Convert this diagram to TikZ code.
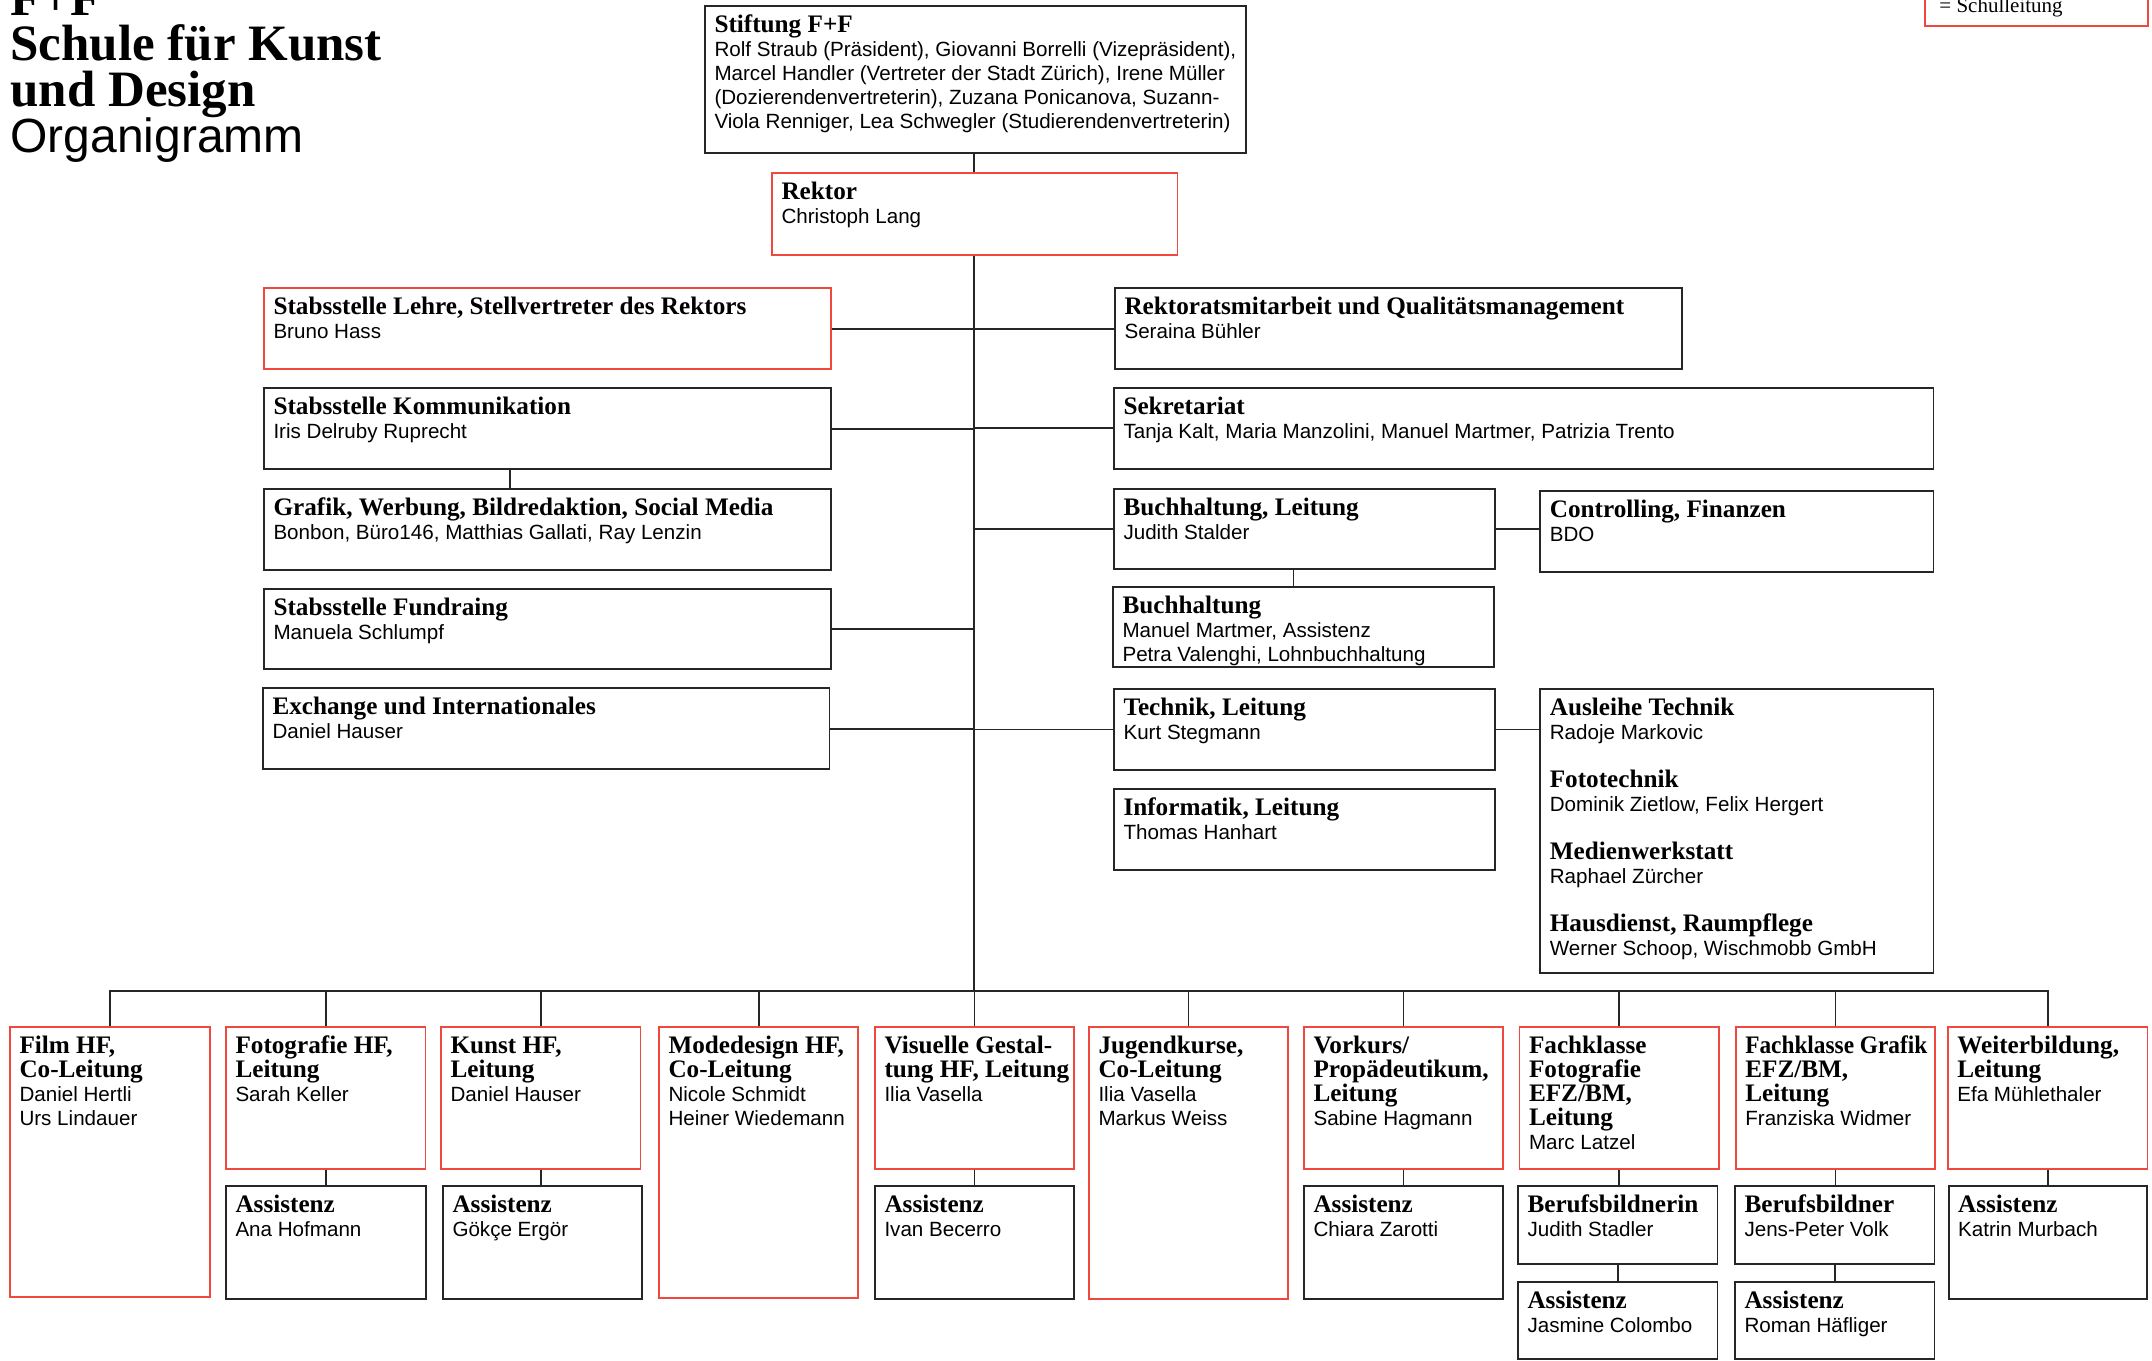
\documentclass[tikz,border=0pt]{standalone}
\usepackage{graphicx}
\usepackage{fontspec}
\setmainfont{Liberation Sans}
\newfontfamily\SerifFam{Liberation Serif}
\usetikzlibrary{fit,calc}
\definecolor{ffred}{RGB}{240,72,62}
\definecolor{ffdark}{RGB}{38,38,38}
\newcommand\HdF{\SerifFam\bfseries\fontsize{12.6}{12}\selectfont}
\newcommand\NmF{\normalfont\fontsize{10.3}{12}\selectfont}
\newcommand\obox[7]{%
  \node[#2,fit={(#3,#4)(#5,#6)}] (#1) {};
  \node[txt] (#1-t) at ($(#1.north west)+(10,27.5)$) {\parbox[t]{420pt}{\lineskiplimit=-100pt\lineskip=0pt #7}};
}
\begin{document}
\begin{tikzpicture}[x=0.5pt,y=-0.5pt,
  bxb/.style={inner sep=0pt,draw=ffdark,line width=0.9pt,fill=white},
  bxr/.style={inner sep=0pt,draw=ffred,line width=0.9pt,fill=white},
  txt/.style={anchor=base west,inner sep=0pt},
  conn/.style={draw=ffdark,line width=0.9pt},
]
\useasboundingbox[fill=white] (0,0) rectangle (2152,1360);

% title
\node[anchor=base west,inner sep=0pt] (title) at (10,15) {\parbox[t]{500pt}{\lineskiplimit=-100pt\SerifFam\bfseries\fontsize{25.5}{23}\selectfont F+F\\ Schule für Kunst\\ und Design\\ \normalfont\fontsize{24}{23}\selectfont Organigramm}};

% legend
\node[inner sep=0pt,draw=ffred,line width=0.9pt,fit={(1925,-40)(2148,25.7)}] (legend) {};
\node[txt] (legend-t) at (1939,12.7) {\SerifFam\fontsize{10.5}{12}\selectfont = Schulleitung};

% top
\obox{stift}{bxb}{705}{6}{1246}{152.7}{\HdF Stiftung F+F\\ \NmF Rolf Straub (Präsident), Giovanni Borrelli (Vizepräsident),\\ Marcel Handler (Vertreter der Stadt Zürich), Irene Müller\\ (Dozierendenvertreterin), Zuzana Ponicanova, Suzann-\\ Viola Renniger, Lea Schwegler (Studierendenvertreterin)}
\obox{rektor}{bxr}{772}{173}{1177.5}{255}{\HdF Rektor\\ \NmF Christoph Lang}

% left column
\obox{lehre}{bxr}{264}{288.3}{831}{369}{\HdF Stabsstelle Lehre, Stellvertreter des Rektors\\ \NmF Bruno Hass}
\obox{komm}{bxb}{264}{388.3}{831}{469.3}{\HdF Stabsstelle Kommunikation\\ \NmF Iris Delruby Ruprecht}
\obox{grafik}{bxb}{264}{489}{831}{570}{\HdF Grafik, Werbung, Bildredaktion, Social Media\\ \NmF Bonbon, Büro146, Matthias Gallati, Ray Lenzin}
\obox{fund}{bxb}{264}{589}{831}{669.3}{\HdF Stabsstelle Fundraing\\ \NmF Manuela Schlumpf}
\obox{exch}{bxb}{263}{688.3}{829.5}{769}{\HdF Exchange und Internationales\\ \NmF Daniel Hauser}

% right column
\obox{rekt}{bxb}{1115}{288.3}{1682.3}{369}{\HdF Rektoratsmitarbeit und Qualitätsmanagement\\ \NmF Seraina Bühler}
\obox{sekr}{bxb}{1114}{387.7}{1933.4}{469}{\HdF Sekretariat\\ \NmF Tanja Kalt, Maria Manzolini, Manuel Martmer, Patrizia Trento}
\obox{buchl}{bxb}{1114}{488.7}{1495.3}{569.3}{\HdF Buchhaltung, Leitung\\ \NmF Judith Stalder}
\obox{contr}{bxb}{1540.3}{490.7}{1933.4}{571.7}{\HdF Controlling, Finanzen\\ \NmF BDO}
\obox{buch}{bxb}{1113}{586.7}{1494.2}{667.3}{\HdF Buchhaltung\\ \NmF Manuel Martmer, Assistenz\\ Petra Valenghi, Lohnbuchhaltung}
\obox{tech}{bxb}{1114}{689}{1495.3}{770}{\HdF Technik, Leitung\\ \NmF Kurt Stegmann}
\obox{info}{bxb}{1114}{788.7}{1495.3}{870}{\HdF Informatik, Leitung\\ \NmF Thomas Hanhart}
\obox{ausl}{bxb}{1540.3}{689}{1933.4}{973.3}{\HdF Ausleihe Technik\\ \NmF Radoje Markovic\\[12pt] \HdF Fototechnik\\ \NmF Dominik Zietlow, Felix Hergert\\[12pt] \HdF Medienwerkstatt\\ \NmF Raphael Zürcher\\[12pt] \HdF Hausdienst, Raumpflege\\ \NmF Werner Schoop, Wischmobb GmbH}

% bottom row
\obox{film}{bxr}{10}{1027.3}{210}{1297}{\HdF Film HF,\\ Co-Leitung\\ \NmF Daniel Hertli\\ Urs Lindauer}
\obox{foto}{bxr}{226}{1027.3}{425.5}{1169}{\HdF Fotografie HF,\\ Leitung\\ \NmF Sarah Keller}
\obox{assfoto}{bxb}{226}{1186}{426}{1299}{\HdF Assistenz\\ \NmF Ana Hofmann}
\obox{kunst}{bxr}{441}{1027.3}{640.5}{1169}{\HdF Kunst HF,\\ Leitung\\ \NmF Daniel Hauser}
\obox{asskunst}{bxb}{443}{1186}{642}{1299}{\HdF Assistenz\\ \NmF Gökçe Ergör}
\obox{mode}{bxr}{659}{1027.3}{858.2}{1297.7}{\HdF Modedesign HF,\\ Co-Leitung\\ \NmF Nicole Schmidt\\ Heiner Wiedemann}
\obox{visu}{bxr}{875}{1027.3}{1074}{1169}{\HdF Visuelle Gestal-\\ tung HF, Leitung\\ \NmF Ilia Vasella}
\obox{assvisu}{bxb}{875}{1186}{1074}{1299}{\HdF Assistenz\\ \NmF Ivan Becerro}
\obox{jugend}{bxr}{1089}{1027.3}{1288}{1299}{\HdF Jugendkurse,\\ Co-Leitung\\ \NmF Ilia Vasella\\ Markus Weiss}
\obox{vorkurs}{bxr}{1304}{1027.3}{1503}{1169}{\HdF Vorkurs/\\ Propädeutikum,\\ Leitung\\ \NmF Sabine Hagmann}
\obox{assvor}{bxb}{1304}{1186}{1503}{1299}{\HdF Assistenz\\ \NmF Chiara Zarotti}
\obox{fkfoto}{bxr}{1519.5}{1027.3}{1719}{1169}{\HdF Fachklasse\\ Fotografie\\ EFZ/BM,\\ Leitung\\ \NmF Marc Latzel}
\obox{berufin}{bxb}{1518}{1186}{1717.5}{1264}{\HdF Berufsbildnerin\\ \NmF Judith Stadler}
\obox{assfk1}{bxb}{1518}{1281.7}{1717.5}{1359}{\HdF Assistenz\\ \NmF Jasmine Colombo}
\obox{fkgraf}{bxr}{1735.8}{1027.3}{1935.3}{1169}{\HdF \scalebox{0.925}[1]{Fachklasse Grafik}\\ EFZ/BM,\\ Leitung\\ \NmF Franziska Widmer}
\obox{berufer}{bxb}{1735}{1186}{1934.5}{1264}{\HdF Berufsbildner\\ \NmF Jens-Peter Volk}
\obox{assfk2}{bxb}{1735}{1281.7}{1934.5}{1359}{\HdF Assistenz\\ \NmF Roman Häfliger}
\obox{weiter}{bxr}{1947.8}{1027.3}{2147.4}{1169}{\HdF Weiterbildung,\\ Leitung\\ \NmF Efa Mühlethaler}
\obox{assweiter}{bxb}{1948.6}{1186}{2146.6}{1299}{\HdF Assistenz\\ \NmF Katrin Murbach}

% connectors
\coordinate (trunk) at (974,0);
\coordinate (bus) at (974,991);
\coordinate (kg) at (510.3,0);
\coordinate (bb) at (1293.4,0);
\draw[conn] (stift.south -| trunk) -- (rektor.north -| trunk);
\draw[conn] (rektor.south -| trunk) -- (bus);
\foreach \n in {lehre,komm,fund,exch} \draw[conn] (\n.east) -- (\n.east -| trunk);
\foreach \n in {rekt,sekr,buchl,tech} \draw[conn] (\n.west) -- (\n.west -| trunk);
\draw[conn] (komm.south -| kg) -- (grafik.north -| kg);
\draw[conn] (buchl.south -| bb) -- (buch.north -| bb);
\draw[conn] (buchl.east) -- (buchl.east -| contr.west);
\draw[conn] (tech.east) -- (tech.east -| ausl.west);
\draw[conn] (film.north) -- (film.north |- bus) -| (weiter.north);
\foreach \n in {foto,kunst,mode,visu,jugend,vorkurs,fkfoto,fkgraf} \draw[conn] (\n.north) -- (\n.north |- bus);
\foreach \a/\b in {foto/assfoto,kunst/asskunst,visu/assvisu,vorkurs/assvor,fkfoto/berufin,berufin/assfk1,fkgraf/berufer,berufer/assfk2,weiter/assweiter} \draw[conn] (\a.south) -- (\a.south |- \b.north);
\end{tikzpicture}
\end{document}
